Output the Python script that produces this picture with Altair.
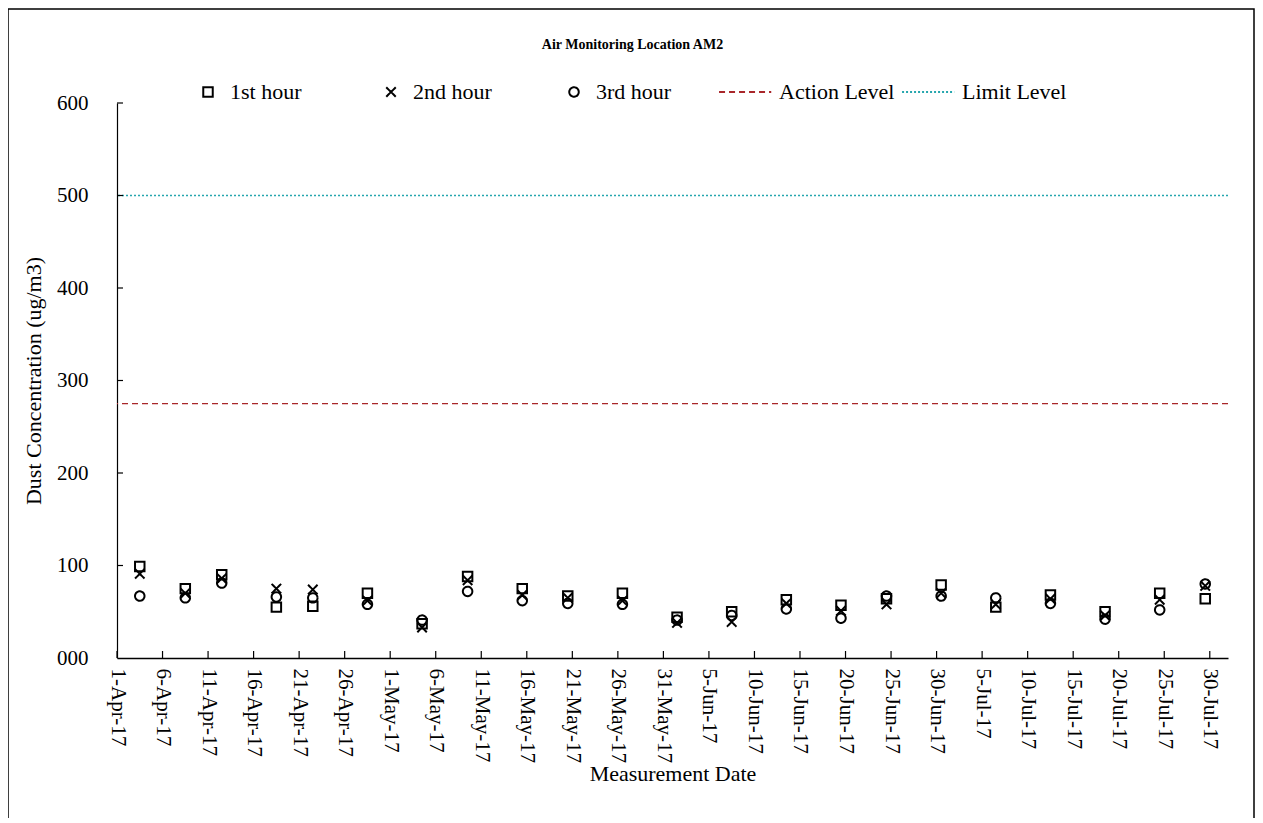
import altair as alt
import pandas as pd
from datetime import datetime, timezone, timedelta

FONT = "Liberation Serif, Times New Roman, serif"

# ---- data ----
dates = ["2017-04-03", "2017-04-08", "2017-04-12", "2017-04-18", "2017-04-22", "2017-04-28",
         "2017-05-04", "2017-05-09", "2017-05-15", "2017-05-20", "2017-05-26",
         "2017-06-01", "2017-06-07", "2017-06-13", "2017-06-19", "2017-06-24", "2017-06-30",
         "2017-07-06", "2017-07-12", "2017-07-18", "2017-07-24", "2017-07-29"]
hour1 = [99, 75, 90, 55, 56, 70, 37, 88, 75, 67, 70, 44, 50, 63, 57, 64, 79, 55, 68, 50, 70, 64]
hour2 = [91, 70, 86, 75, 74, 62, 33, 84, 68, 65, 62, 38, 39, 59, 51, 58, 70, 58, 64, 46, 63, 78]
hour3 = [67, 65, 81, 66, 65, 58, 41, 72, 62, 59, 58, 41, 46, 53, 43, 67, 67, 65, 59, 42, 52, 80]

level_names = ["Action Level", "Limit Level"]
level_values = [275, 500]

series_names = ["1st hour", "2nd hour", "3rd hour", "Action Level", "Limit Level"]
y_ticks = [0, 100, 200, 300, 400, 500, 600]
x_start = "2017-04-01"
x_end = "2017-08-01"
x_tick_step_days = 5
x_tick_count = 25


def ms(d, hours=0):
    dt = datetime.fromisoformat(d).replace(tzinfo=timezone.utc) + timedelta(hours=hours)
    return int(dt.timestamp() * 1000)


# points are drawn in the middle of their day slot (Excel date axis)
rows = []
for name, vals in zip(series_names[:3], [hour1, hour2, hour3]):
    for d, v in zip(dates, vals):
        rows.append({"t": ms(d, 12), "date": d, "value": v, "series": name})
pts = pd.DataFrame(rows)
levels = pd.DataFrame({"series": level_names, "value": level_values})

x_tick_vals = [ms(x_start) + k * x_tick_step_days * 86400000 for k in range(x_tick_count)]
xticks_df = pd.DataFrame({"t": x_tick_vals})
yticks_df = pd.DataFrame({"value": y_ticks[1:]})

W, H = 1111, 555

xscale = alt.Scale(type="utc", domain=[ms(x_start), ms(x_end)], nice=False)
yscale = alt.Scale(domain=[0, 600], nice=False, zero=True)

LINE_SYM = "M-8,0H3"
shape_scale = alt.Scale(domain=series_names,
                        range=["square", "M-1,-1L1,1M1,-1L-1,1", "circle", LINE_SYM, LINE_SYM])
color_scale = alt.Scale(domain=series_names,
                        range=["black", "black", "black", "#A8262A", "#26A6AE"])
dash_scale = alt.Scale(domain=series_names,
                       range=[[1, 0], [1, 0], [1, 0], [6, 4], [2, 2]])

leg = alt.Legend(title=None, orient="none", legendX=80, legendY=-22,
                 direction="horizontal", gridAlign="all",
                 labelFont=FONT, labelFontSize=22,
                 labelColor="black", columnPadding=3, labelOffset=11,
                 symbolSize=90, symbolStrokeWidth=2, padding=0)

x_axis = alt.Axis(values=x_tick_vals, labelExpr="utcFormat(datum.value, '%-d-%b-%y')",
                  labelAngle=90, ticks=False, grid=False, domainColor="black",
                  domainWidth=1.5, labelPadding=10, labelFont=FONT, labelFontSize=21,
                  labelColor="black", labelOverlap=False, labelFlush=False,
                  title="Measurement Date", titleFont=FONT, titleFontSize=22,
                  titleFontWeight="normal", titleColor="black",
                  titleY=115, titleBaseline="middle")
y_axis = alt.Axis(values=y_ticks, format="03d", ticks=False, grid=False,
                  domainColor="black", domainWidth=1.2, labelPadding=29,
                  labelFont=FONT, labelFontSize=21, labelColor="black",
                  title="Dust Concentration (ug/m3)", titleFont=FONT, titleFontSize=22,
                  titleFontWeight="normal", titleColor="black",
                  titleX=-84, titleY=H / 2, titleAngle=270, titleBaseline="middle",
                  titleAlign="center")

points = alt.Chart(pts).mark_point(filled=False, strokeWidth=2, opacity=1, size=90).encode(
    x=alt.X("t:T", scale=xscale, axis=x_axis),
    y=alt.Y("value:Q", scale=yscale, axis=y_axis),
    shape=alt.Shape("series:N", scale=shape_scale, legend=leg),
    color=alt.Color("series:N", scale=color_scale, legend=leg),
    strokeDash=alt.StrokeDash("series:N", scale=dash_scale, legend=leg),
)

rules = alt.Chart(levels).mark_rule(strokeWidth=1.3).encode(
    y=alt.Y("value:Q", scale=yscale, axis=y_axis),
    color=alt.Color("series:N", scale=color_scale, legend=leg),
    strokeDash=alt.StrokeDash("series:N", scale=dash_scale, legend=leg),
)

ytick_marks = alt.Chart(yticks_df).mark_rule(color="black", strokeWidth=1.2).encode(
    y=alt.Y("value:Q", scale=yscale, axis=y_axis),
    x=alt.value(0), x2=alt.value(6),
)
xtick_marks = alt.Chart(xticks_df).mark_rule(color="black", strokeWidth=1.2).encode(
    x=alt.X("t:T", scale=xscale, axis=x_axis),
    y=alt.value(H), y2=alt.value(H - 7),
)

frame = alt.Chart(alt.Data(values=[{"f": 1}])).mark_rect(
    fillOpacity=0, stroke="black", strokeWidth=1.5, clip=False
).encode(x=alt.value(-109), x2=alt.value(1137), y=alt.value(-94), y2=alt.value(745))

chart = alt.layer(points, rules, ytick_marks, xtick_marks, frame).properties(
    width=W, height=H, autosize="none",
    padding={"left": 109, "top": 95, "right": 27, "bottom": 160},
    title=alt.TitleParams("Air Monitoring Location AM2", font=FONT, fontSize=14,
                          fontWeight="bold", color="black", anchor="middle",
                          dx=-40, dy=44, offset=0),
).configure_view(stroke="transparent")

chart.save("out.html", embed_options={"renderer": "svg", "actions": False})
